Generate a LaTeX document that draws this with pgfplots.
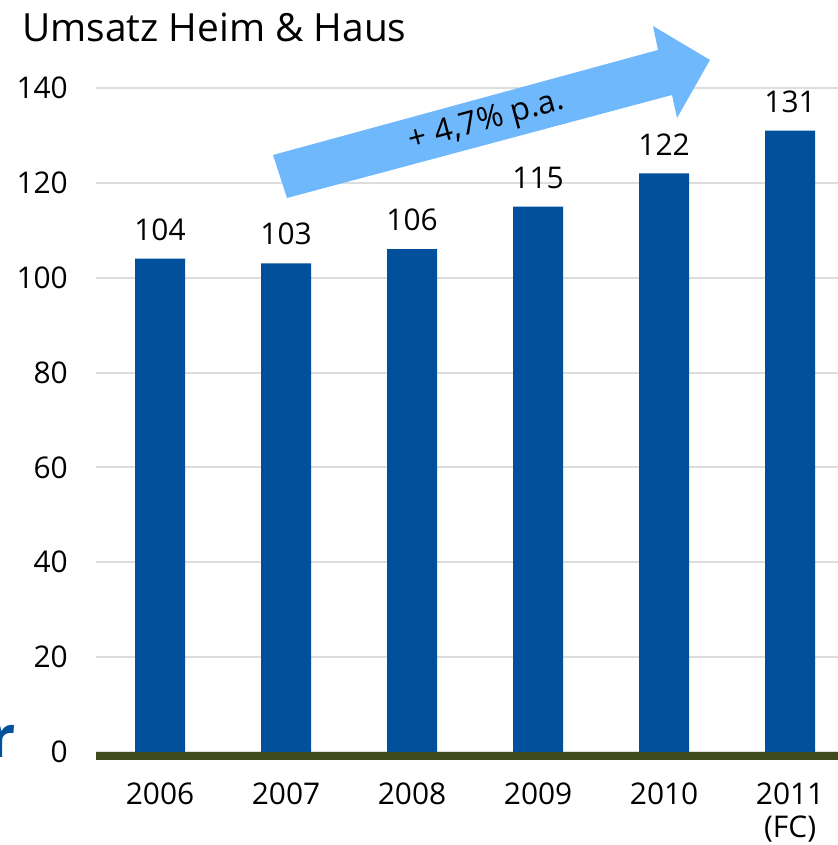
\documentclass[border=0pt]{standalone}
\usepackage{fontspec}
\setmainfont{Open Sans}
\usepackage{pgfplots}
\pgfplotsset{compat=1.18}
\definecolor{barblue}{HTML}{00509B}
\definecolor{arrowblue}{HTML}{70B8FC}
\definecolor{axisgreen}{HTML}{414A1C}
\definecolor{gridgray}{HTML}{DDDDDD}
\begin{document}
\begin{tikzpicture}[x=1bp,y=1bp]
\path[use as bounding box] (0,0) rectangle (838,845);
\begin{scope}
\clip (0,0) rectangle (838,845);
\begin{axis}[
  at={(96bp,93bp)}, anchor=south west, scale only axis,
  width=742bp, height=664bp,
  xmin=-0.508, xmax=5.38, ymin=0, ymax=140,
  ytick={0,20,...,140},
  xtick={0,1,2,3,4,5},
  xticklabels={2006,2007,2008,2009,2010,{2011\\(FC)}},
  /pgf/number format/assume math mode=true,
  major tick length=0pt,
  axis x line*=bottom, axis y line*=left,
  x axis line style={draw=none},
  y axis line style={draw=none},
  ymajorgrids, grid style={gridgray, line width=2bp},
  xticklabel style={align=center, font=\fontsize{30}{33}\selectfont, anchor=north, inner sep=0pt, yshift=-31bp},
  yticklabel style={font=\fontsize{30}{33}\selectfont, anchor=east, inner sep=0pt, xshift=-28bp},
  ybar, bar width=0.397,
  nodes near coords,
  nodes near coords style={font=\fontsize{30}{33}\selectfont, anchor=south, inner sep=0pt, yshift=18bp, text=black},
  clip=false,
]
\addplot[fill=barblue, draw=none] coordinates {(0,104) (1,103) (2,106) (3,115) (4,122) (5,131)};
\draw[axisgreen, line width=8bp] ([yshift=-4bp]rel axis cs:0,0) -- ([yshift=-4bp]rel axis cs:1,0);
\end{axis}
\fill[arrowblue] (273,690) -- (658,795) -- (653,819) -- (710,785) -- (677,727) -- (672,750) -- (287,647) -- cycle;
\node[rotate=15, font=\fontsize{32}{36}\selectfont, inner sep=0pt] at (487,723) {+ 4,7\% p.a.};
\node[anchor=base west, inner sep=0pt, font=\fontsize{39}{44}\selectfont] at (22,803) {Umsatz Heim \& Haus};
\node[anchor=base east, inner sep=0pt, font=\fontsize{58}{60}\selectfont\bfseries, text=barblue] at (16,87) {r};
\end{scope}
\end{tikzpicture}
\end{document}
